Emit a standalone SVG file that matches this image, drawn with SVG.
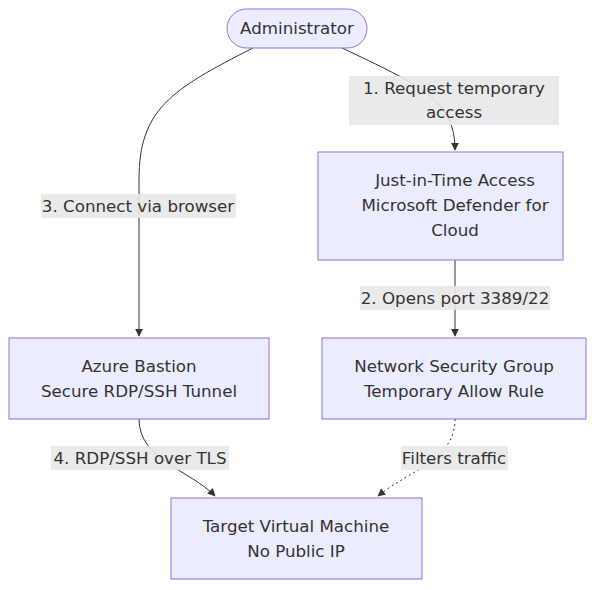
<svg xmlns="http://www.w3.org/2000/svg" width="600" height="590" viewBox="0 0 600 590">
<defs>
<style>
.n{fill:#ECECFF;stroke:#9370DB;stroke-width:1}
.t{font-family:"DejaVu Sans",sans-serif;font-size:16.7px;fill:#333;text-anchor:middle}
.e{fill:none;stroke:#333;stroke-width:1}
.d{stroke-dasharray:2 3}
.lb{fill:#E8E8E8;opacity:0.9}
</style>
<marker id="a" viewBox="0 0 10 10" refX="9" refY="5" markerWidth="8" markerHeight="8" orient="auto"><path d="M0,0L10,5L0,10z" fill="#333"/></marker>
</defs>
<rect width="600" height="590" fill="#fff"/>
<g id="edges">
<path class="e" d="M342,48 C420,85 455,100 455,150" marker-end="url(#a)"/>
<path class="e" d="M253,48 C170,90 139,110 139,180 L139,336" marker-end="url(#a)"/>
<path class="e" d="M455,260 L455,336" marker-end="url(#a)"/>
<path class="e" d="M139,419 C139,460 190,470 215,496" marker-end="url(#a)"/>
<path class="e d" d="M455,419 C455,460 410,470 378,496" marker-end="url(#a)"/>
<rect class="lb" x="349" y="76" width="210" height="49"/>
<text class="t" x="454" y="94">1. Request temporary</text>
<text class="t" x="454" y="118">access</text>
<rect class="lb" x="41" y="194" width="195" height="24"/>
<text class="t" x="138" y="212">3. Connect via browser</text>
<rect class="lb" x="360" y="286" width="190" height="24"/>
<text class="t" x="455" y="304">2. Opens port 3389/22</text>
<rect class="lb" x="51" y="446" width="178" height="24"/>
<text class="t" x="140" y="464">4. RDP/SSH over TLS</text>
<rect class="lb" x="401" y="446" width="107" height="24"/>
<text class="t" x="454" y="464">Filters traffic</text>
</g>
<g id="admin"><rect class="n" x="227" y="9" width="140" height="39" rx="19.5"/><text class="t" x="297" y="34">Administrator</text></g>
<g id="jit"><rect class="n" x="318" y="152" width="245" height="108"/>
<text class="t" x="455" y="186">Just-in-Time Access</text><text class="t" x="455" y="211">Microsoft Defender for</text><text class="t" x="455" y="236">Cloud</text></g>
<g id="bastion"><rect class="n" x="9" y="338" width="260" height="81"/>
<text class="t" x="139" y="372">Azure Bastion</text><text class="t" x="139" y="397">Secure RDP/SSH Tunnel</text></g>
<g id="nsg"><rect class="n" x="322" y="338" width="264" height="81"/>
<text class="t" x="454" y="372">Network Security Group</text><text class="t" x="454" y="397">Temporary Allow Rule</text></g>
<g id="vm"><rect class="n" x="171" y="498" width="251" height="81"/>
<text class="t" x="296" y="532">Target Virtual Machine</text><text class="t" x="296" y="557">No Public IP</text></g>
</svg>
